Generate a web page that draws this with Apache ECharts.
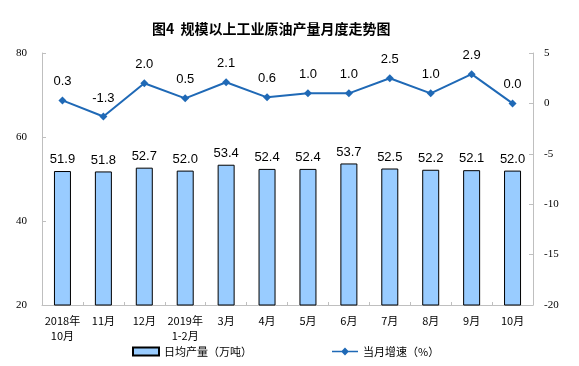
<!DOCTYPE html>
<html><head><meta charset="utf-8">
<script src="https://cdn.jsdelivr.net/npm/echarts@6/dist/echarts.min.js"></script>
<style>html,body{margin:0;padding:0;background:#fff}#c{width:579px;height:366px}</style>
</head><body><div id="c"></div>
<script>
var title = '图4  规模以上工业原油产量月度走势图';
var categories = ['2018年\n10月','11月','12月','2019年\n1-2月','3月','4月','5月','6月','7月','8月','9月','10月'];
var output = [51.9,51.8,52.7,52.0,53.4,52.4,52.4,53.7,52.5,52.2,52.1,52.0];
var growth = [0.3,-1.3,2.0,0.5,2.1,0.6,1.0,1.0,2.5,1.0,2.9,0.0];
var leftTicks = [20,80,20];
var rightTicks = [-20,5,5];
var chart = echarts.init(document.getElementById('c'));
chart.setOption({
  animation:false,
  title:{text:title,left:147,top:17,textStyle:{fontSize:14,fontWeight:'bold',color:'#000',fontFamily:'Noto Sans CJK SC'}},
  legend:{bottom:4,itemGap:80,left:127,itemWidth:26,itemHeight:8,textStyle:{fontSize:11,color:'#000',fontFamily:'Noto Sans CJK SC'},
    data:[{name:'日均产量（万吨）',icon:'rect'},{name:'当月增速（%）',icon:'path://M0,4.4 L20,4.4 L20,5.6 L0,5.6 Z M10,2 L13,5 L10,8 L7,5 Z'}]},
  grid:{left:42,right:46,top:53,bottom:61},
  xAxis:{type:'category',data:categories,
    axisLine:{onZero:false,lineStyle:{color:'#bfbfbf'}},
    axisTick:{show:true,alignWithLabel:false,lineStyle:{color:'#bfbfbf'},length:3,inside:true},
    axisLabel:{interval:0,color:'#000',fontSize:11,fontFamily:'Noto Sans CJK SC',lineHeight:15,margin:8}},
  yAxis:[
    {type:'value',min:leftTicks[0],max:leftTicks[1],interval:leftTicks[2],splitLine:{show:false},
     axisLine:{show:true,lineStyle:{color:'#bfbfbf'}},axisTick:{show:true,inside:true,length:4,lineStyle:{color:'#bfbfbf'}},
     axisLabel:{color:'#000',fontSize:11,fontFamily:'Liberation Serif',margin:15}},
    {type:'value',min:rightTicks[0],max:rightTicks[1],interval:rightTicks[2],splitLine:{show:false},
     axisLine:{show:true,lineStyle:{color:'#bfbfbf'}},axisTick:{show:true,inside:true,length:4,lineStyle:{color:'#bfbfbf'}},
     axisLabel:{color:'#000',fontSize:11,fontFamily:'Liberation Serif',margin:11}}
  ],
  series:[
    {name:'日均产量（万吨）',type:'bar',data:output,barWidth:17,yAxisIndex:0,
     itemStyle:{color:'#99CCFF',borderColor:'#000',borderWidth:1},
     label:{show:true,position:'top',distance:5,color:'#000',fontSize:13,fontFamily:'Liberation Sans',formatter:function(p){return p.value.toFixed(1);}}},
    {name:'当月增速（%）',type:'line',data:growth,yAxisIndex:1,symbol:'diamond',symbolSize:8,
     lineStyle:{color:'#1F69B6',width:2},itemStyle:{color:'#1F69B6'},
     label:{show:true,position:'top',distance:8,color:'#000',fontSize:13,fontFamily:'Liberation Sans',formatter:function(p){return p.value.toFixed(1);}}}
  ]
});
</script></body></html>
